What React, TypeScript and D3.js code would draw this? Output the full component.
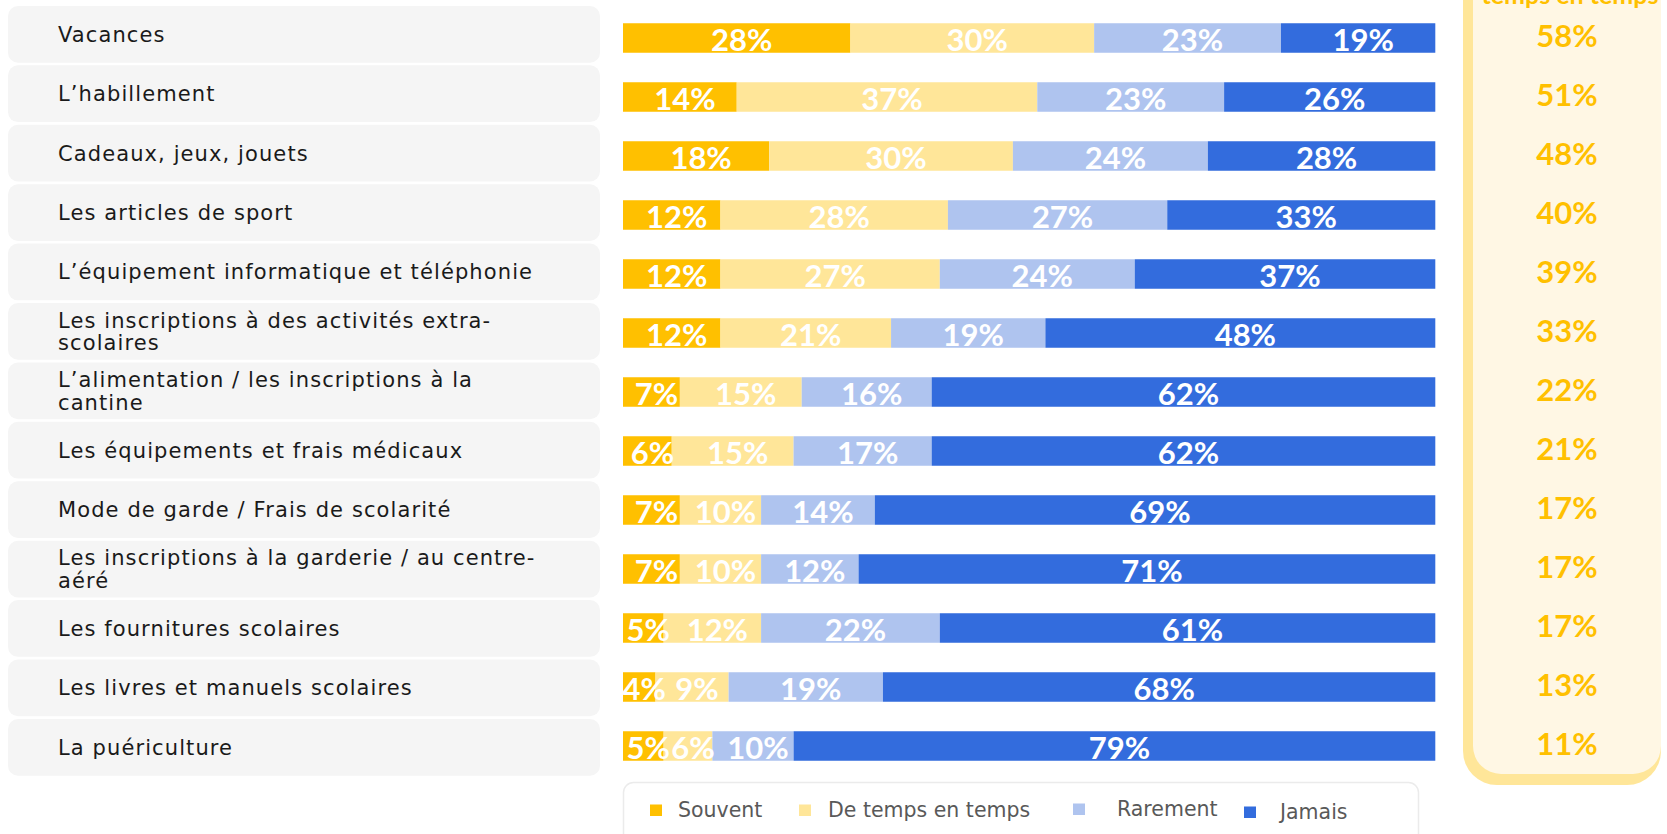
import React, { useEffect } from "react";
import * as d3 from "d3";

const categories = [
  "Vacances",
  "L’habillement",
  "Cadeaux, jeux, jouets",
  "Les articles de sport",
  "L’équipement informatique et téléphonie",
  "Les inscriptions à des activités extra-\nscolaires",
  "L’alimentation / les inscriptions à la\ncantine",
  "Les équipements et frais médicaux",
  "Mode de garde / Frais de scolarité",
  "Les inscriptions à la garderie / au centre-\naéré",
  "Les fournitures scolaires",
  "Les livres et manuels scolaires",
  "La puériculture",
];

const seriesNames = ["Souvent", "De temps en temps", "Rarement", "Jamais"];
const souvent = [28, 14, 18, 12, 12, 12, 7, 6, 7, 7, 5, 4, 5];
const deTemps = [30, 37, 30, 28, 27, 21, 15, 15, 10, 10, 12, 9, 6];
const rarement = [23, 23, 24, 27, 24, 19, 16, 17, 14, 12, 22, 19, 10];
const jamais = [19, 26, 28, 33, 37, 48, 62, 62, 69, 71, 61, 68, 79];
const totalSouventDeTemps = [58, 51, 48, 40, 39, 33, 22, 21, 17, 17, 17, 13, 11];
const panelHeader = "temps en temps";

const colors = ["#FFC000", "#FFE699", "#AFC4EF", "#336CDD"];

const W = 1667;
const H = 834;

export default function App() {
  useEffect(() => {
    document.body.style.margin = "0";
  }, []);

  const series = [souvent, deTemps, rarement, jamais];
  const rows = categories.map((c, i) => {
    const vals = series.map((s) => s[i]);
    let acc = 0;
    const segs = vals.map((v, k) => {
      const s = { key: k, x0: acc, x1: acc + v, v };
      acc += v;
      return s;
    });
    return { cat: c, segs, total: totalSouventDeTemps[i] };
  });

  const x = d3.scaleLinear().domain([0, 100]).range([623, 1435.3]);
  const yBar = d3
    .scaleBand<string>()
    .domain(categories)
    .range([8.5, 8.5 + 13 * 59])
    .paddingInner(0.5)
    .paddingOuter(0.25);
  const yBox = d3.scalePoint<string>().domain(categories).range([34.3, 747.3]);
  const boxH = 56.7;

  const legendX = [650, 799, 1073, 1244];
  const legendTextX = [678, 828, 1117, 1280];
  const legendBase = [817, 817, 816, 819];

  return (
    <svg
      width={W}
      height={H}
      style={{ position: "absolute", left: 0, top: 0, display: "block" }}
    >
      <rect x={0} y={0} width={W} height={H} fill="#ffffff" />
      {/* right panel */}
      <rect x={1463} y={-60} width={198} height={845} rx={34} fill="#FFE699" />
      <rect x={1473} y={-60} width={188} height={834} rx={28} fill="#FFF7E4" />
      <text
        x={1570}
        y={4}
        textAnchor="middle"
        fontFamily="Lato, sans-serif"
        fontWeight={700}
        fontSize={25}
        fill="#FFC000"
      >
        {panelHeader}
      </text>

      {rows.map((r) => {
        const lines = r.cat.split("\n");
        const cy = yBox(r.cat)!;
        const lh = 22.5;
        const by = yBar(r.cat)!;
        const bh = yBar.bandwidth();
        return (
          <g key={r.cat}>
            <rect x={8} y={cy - boxH / 2} width={592} height={boxH} rx={10} fill="#F5F5F5" />
            <text
              fontFamily="'DejaVu Sans', sans-serif"
              fontSize={21}
              letterSpacing={1.1}
              fill="#1a1a1a"
            >
              {lines.map((l, j) => (
                <tspan
                  key={j}
                  x={58}
                  y={cy + 7.5 + (j - (lines.length - 1) / 2) * lh}
                >
                  {l}
                </tspan>
              ))}
            </text>
            {r.segs.map((s) => (
              <rect
                key={s.key}
                x={x(s.x0)}
                y={by}
                width={x(s.x1) - x(s.x0)}
                height={bh}
                fill={colors[s.key]}
              />
            ))}
            {r.segs.map((s) => (
              <text
                key={"t" + s.key}
                x={(x(s.x0) + x(s.x1)) / 2 + 5}
                y={by + bh - 1.5}
                textAnchor="middle"
                fontFamily="Lato, sans-serif"
                fontWeight={700}
                fontSize={31}
                fill="#ffffff"
              >
                {s.v + "%"}
              </text>
            ))}
            <text
              x={1567}
              y={by + bh - 5.5}
              textAnchor="middle"
              fontFamily="Lato, sans-serif"
              fontWeight={700}
              fontSize={31}
              fill="#FFC000"
            >
              {r.total + "%"}
            </text>
          </g>
        );
      })}

      {/* legend */}
      <rect
        x={623.5}
        y={782.5}
        width={795}
        height={80}
        rx={10}
        fill="#ffffff"
        stroke="#EBEBEB"
        strokeWidth={1.5}
      />
      {seriesNames.map((n, k) => (
        <g key={n}>
          <rect
            x={legendX[k]}
            y={legendBase[k] - 12.5}
            width={12}
            height={11.5}
            fill={colors[k]}
          />
          <text
            x={legendTextX[k]}
            y={legendBase[k]}
            fontFamily="'DejaVu Sans', sans-serif"
            fontSize={20.5}
            fill="#595959"
          >
            {n}
          </text>
        </g>
      ))}
    </svg>
  );
}
